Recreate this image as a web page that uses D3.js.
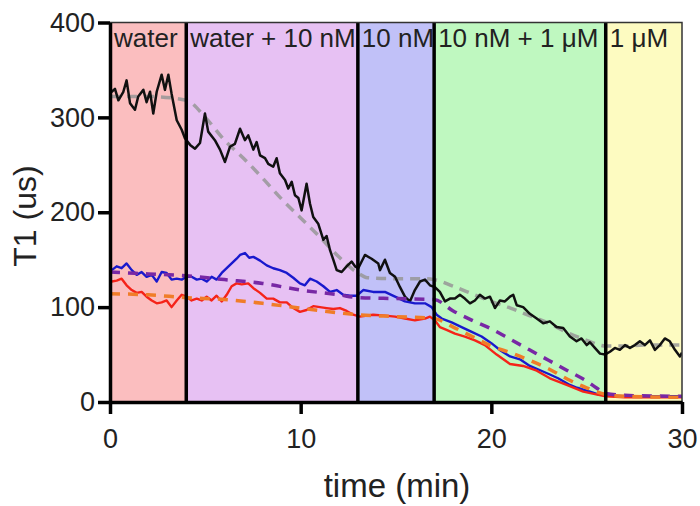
<!DOCTYPE html>
<html>
<head>
<meta charset="utf-8">
<script src="https://cdn.jsdelivr.net/npm/d3@7"></script>
<style>
  body { margin: 0; background: #fff; }
  text { font-family: Arial, "Liberation Sans", Helvetica, sans-serif; fill: #222; }
</style>
</head>
<body>
<div id="chart"></div>
<script>
// condition bands: start, end (min), label, colour
const bandStarts = [0, 4, 13, 17, 26];
const bandEnds = [4, 13, 17, 26, 30];
const bandLabels = ["water", "water + 10 nM", "10 nM", "10 nM + 1 \u03BCM", "1 \u03BCM"];
const bandColors = ["rgb(251,190,191)", "rgb(231,193,243)", "rgb(193,193,248)", "rgb(191,248,192)", "rgb(253,251,193)"];

const xTicks = [0, 10, 20, 30];
const yTicks = [0, 100, 200, 300, 400];

// measured T1 traces [time (min), T1 (us)]
const blackTrace = [[0,325],[0.09,327],[0.26,330],[0.44,318],[0.7,327],[0.87,339],[1.05,315],[1.31,308],[1.48,322],[1.75,329],[1.92,316],[2.1,327],[2.27,304],[2.45,327],[2.71,345],[2.88,329],[3.06,345],[3.23,325],[3.5,297],[3.76,287],[3.93,278],[4.2,271],[4.46,267],[4.72,273],[4.98,304],[5.15,285],[5.5,276],[5.77,266],[6.03,253],[6.29,269],[6.55,272],[6.82,288],[7.08,276],[7.25,281],[7.52,266],[7.69,274],[7.87,260],[8.13,257],[8.3,251],[8.56,248],[8.74,257],[8.91,241],[9.18,234],[9.35,225],[9.53,232],[9.7,218],[9.88,215],[10.05,202],[10.31,230],[10.49,209],[10.66,195],[10.92,188],[11.19,171],[11.36,175],[11.54,160],[11.71,150],[11.89,139],[12.15,137],[12.41,143],[12.67,148],[12.85,143],[13.02,141],[13.37,155],[13.72,151],[14.07,146],[14.16,139],[14.42,150],[14.68,136],[14.95,132],[15.21,121],[15.47,111],[15.73,106],[15.99,118],[16.26,127],[16.52,129],[16.78,123],[17.04,121],[17.3,116],[17.57,106],[17.83,109],[18.09,109],[18.35,113],[18.61,109],[18.88,104],[19.14,107],[19.4,113],[19.66,109],[19.93,111],[20.19,99],[20.45,107],[20.71,106],[20.98,111],[21.15,113],[21.33,102],[21.67,100],[22.02,93],[22.38,88],[22.72,83],[23.07,85],[23.42,79],[23.77,78],[24.12,69],[24.47,64],[24.73,67],[25.0,60],[25.17,63],[25.43,57],[25.7,51],[25.96,50],[26.22,53],[26.48,57],[26.74,55],[27.01,60],[27.27,57],[27.53,60],[27.79,64],[28.05,60],[28.32,65],[28.58,55],[28.84,60],[29.1,67],[29.36,64],[29.63,55],[29.89,48],[30,52]];

const blueTrace = [[0,137],[0.09,139],[0.35,143],[0.61,141],[0.87,146],[1.14,139],[1.4,134],[1.66,137],[1.92,132],[2.19,134],[2.45,127],[2.71,137],[2.97,136],[3.23,129],[3.5,130],[3.76,129],[4.02,132],[4.28,132],[4.55,129],[4.81,130],[5.07,127],[5.33,132],[5.59,129],[5.86,136],[6.12,141],[6.38,146],[6.64,151],[6.82,155],[7.08,157],[7.3,152],[7.52,153],[7.87,149],[8.22,144],[8.56,141],[8.91,139],[9.27,136],[9.61,131],[9.96,125],[10.22,123],[10.49,130],[10.84,127],[11.19,122],[11.54,116],[11.89,118],[12.23,113],[12.58,112],[12.93,112],[13.28,118],[13.8,116],[14.42,116],[14.95,111],[15.47,106],[15.99,104],[16.52,104],[16.87,100],[17.13,92],[17.4,88],[17.92,84],[18.44,79],[18.97,74],[19.49,69],[20.0,62],[20.5,54],[20.98,48],[21.5,45],[22.02,38],[22.5,34],[23.07,29],[23.5,25],[24.12,18],[24.5,15],[25.17,11],[25.6,8],[26.04,7],[27,6],[28,6],[29,6],[30,6]];

const redTrace = [[0,125],[0.09,127],[0.35,128],[0.61,130],[0.87,123],[1.14,118],[1.4,115],[1.66,116],[1.92,111],[2.19,107],[2.45,104],[2.71,105],[2.97,107],[3.23,100],[3.5,107],[3.76,113],[4.02,111],[4.28,107],[4.55,109],[4.81,107],[5.07,111],[5.33,107],[5.59,112],[5.86,106],[6.12,113],[6.38,122],[6.64,125],[6.91,124],[7.25,125],[7.52,120],[7.87,115],[8.22,109],[8.56,109],[8.91,105],[9.27,105],[9.61,99],[9.96,95],[10.31,97],[10.66,101],[11.01,100],[11.36,99],[11.71,98],[12.06,99],[12.41,96],[12.76,92],[13.1,90],[13.8,92],[14.42,91],[14.95,90],[15.47,88],[15.99,86],[16.52,88],[16.78,90],[17.04,86],[17.3,79],[17.65,76],[18.09,72],[18.61,69],[19.14,65],[19.66,60],[20.28,50],[20.98,40],[21.67,38],[22.38,33],[23.07,25],[23.95,18],[24.82,11],[25.5,8],[26,6],[27,5],[28,5],[30,5]];

// fitted curves (dashed)
const grayFit = [[0,322],[2,322],[4,318],[5,300],[6,276],[7,257],[8,236],[9,214],[10,194],[11,174],[12,153],[13,136],[13.5,131],[15,130],[16.5,130],[17,129],[18,122],[19,114],[20,106],[21,99],[22,91],[23,83],[24,73],[25,65],[26,59],[27,59],[28,60],[30,60]];
const purpleFit = [[0,137],[2,135],[4,133],[6,129],[8,125],[10,118],[12,113],[13,110],[15,109],[17,108],[18,96],[19,86],[20,77],[21,66],[22,55],[23,44],[24,33],[25,22],[25.5,15],[26,9],[27,7],[30,6]];
const orangeFit = [[0,114],[2,113],[4,110],[6,108],[8,104],[10,99],[12,94],[13,92],[15,90],[17,88],[18,79],[19,69],[20,59],[21,52],[22,44],[23,35],[24,24],[25,15],[26,8],[27,6],[30,5]];

const W = 700, H = 506;
const svg = d3.select("#chart").append("svg")
    .attr("width", W)
    .attr("height", H);

const xScale = d3.scaleLinear().domain([0, 30]).range([110, 682]);
const yScale = d3.scaleLinear().domain([0, 400]).range([402, 22.5]);

svg.append("clipPath").attr("id", "plotclip")
    .append("rect")
    .attr("x", xScale(0)).attr("y", yScale(400))
    .attr("width", xScale(30) - xScale(0))
    .attr("height", yScale(0) - yScale(400));

// bands + labels
bandStarts.forEach((s, i) => {
    const x0 = xScale(s), x1 = xScale(bandEnds[i]);
    svg.append("rect")
        .attr("x", x0).attr("y", yScale(400))
        .attr("width", x1 - x0)
        .attr("height", yScale(0) - yScale(400))
        .attr("fill", bandColors[i]);
    svg.append("clipPath").attr("id", "bandclip" + i)
        .append("rect")
        .attr("x", x0).attr("y", 0)
        .attr("width", x1 - x0).attr("height", H);
    svg.append("text")
        .attr("clip-path", `url(#bandclip${i})`)
        .attr("x", x0 + 4)
        .attr("y", 47)
        .style("font-size", "26px")
        .text(bandLabels[i]);
});

const line = d3.line().x(d => xScale(d[0])).y(d => yScale(d[1]));
const smooth = d3.line().x(d => xScale(d[0])).y(d => yScale(d[1])).curve(d3.curveMonotoneX);

const plot = svg.append("g").attr("clip-path", "url(#plotclip)");

plot.append("path").datum(grayFit)
    .attr("d", smooth).attr("fill", "none")
    .attr("stroke", "rgb(150,150,150)").attr("stroke-width", 3.5)
    .attr("stroke-dasharray", "10,7").attr("opacity", 0.85);

plot.append("path").datum(blackTrace)
    .attr("d", line).attr("fill", "none")
    .attr("stroke", "#111").attr("stroke-width", 2.5)
    .attr("stroke-linejoin", "round");

plot.append("path").datum(blueTrace)
    .attr("d", line).attr("fill", "none")
    .attr("stroke", "rgb(25,25,205)").attr("stroke-width", 2.4)
    .attr("stroke-linejoin", "round");

plot.append("path").datum(redTrace)
    .attr("d", line).attr("fill", "none")
    .attr("stroke", "rgb(245,35,25)").attr("stroke-width", 2.4)
    .attr("stroke-linejoin", "round");

plot.append("path").datum(purpleFit)
    .attr("d", smooth).attr("fill", "none")
    .attr("stroke", "rgb(120,40,165)").attr("stroke-width", 3.5)
    .attr("stroke-dasharray", "10,8");

plot.append("path").datum(orangeFit)
    .attr("d", smooth).attr("fill", "none")
    .attr("stroke", "rgb(240,125,40)").attr("stroke-width", 3.5)
    .attr("stroke-dasharray", "10,8");

// band dividers
bandStarts.slice(1).forEach(s => {
    svg.append("line")
        .attr("x1", xScale(s)).attr("x2", xScale(s))
        .attr("y1", yScale(400)).attr("y2", yScale(0))
        .attr("stroke", "#000").attr("stroke-width", 3.5);
});

// thin frame top / right
svg.append("path")
    .attr("d", `M${xScale(0)},${yScale(400)}H${xScale(30)}V${yScale(0)}`)
    .attr("fill", "none").attr("stroke", "#333").attr("stroke-width", 1.5);

// axes
const xAxis = d3.axisBottom(xScale).tickValues(xTicks).tickSize(12).tickPadding(14).tickSizeOuter(0);
const yAxis = d3.axisLeft(yScale).tickValues(yTicks).tickSize(12).tickPadding(3).tickSizeOuter(0);

const gx = svg.append("g").attr("transform", `translate(0,${yScale(0)})`).call(xAxis);
const gy = svg.append("g").attr("transform", `translate(${xScale(0)},0)`).call(yAxis);

[gx, gy].forEach(g => {
    g.select(".domain").attr("stroke", "#000").attr("stroke-width", 3.5);
    g.selectAll(".tick line").attr("stroke", "#000").attr("stroke-width", 3.5);
    g.selectAll(".tick text").style("font-size", "27px").attr("fill", "#222");
});
gx.selectAll(".tick text").attr("dy", "0.75em");

svg.append("text")
    .attr("x", 397).attr("y", 497)
    .attr("text-anchor", "middle")
    .style("font-size", "33px")
    .text("time (min)");

svg.append("text")
    .attr("transform", "translate(36,216) rotate(-90)")
    .attr("text-anchor", "middle")
    .style("font-size", "32px")
    .text("T1 (us)");
</script>
</body>
</html>
